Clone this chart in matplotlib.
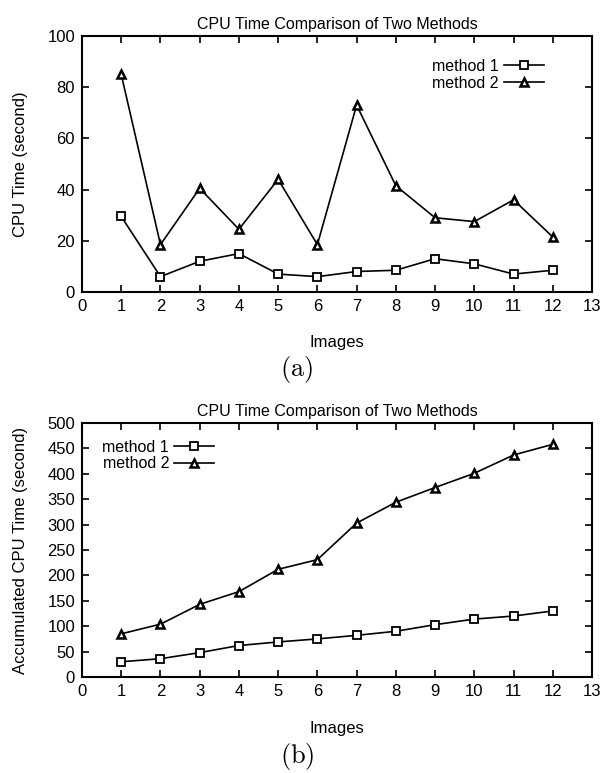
import matplotlib
matplotlib.use("Agg")
import matplotlib.pyplot as plt

plt.rcParams['font.family'] = ['Liberation Sans', 'DejaVu Sans']
plt.rcParams['mathtext.fontset'] = 'cm'

images = [1, 2, 3, 4, 5, 6, 7, 8, 9, 10, 11, 12]
# (a) CPU time per image
cpu_m1 = [29.5, 6, 12, 15, 7, 6, 8, 8.5, 13, 11, 7, 8.5]
cpu_m2 = [85, 18.5, 40.5, 24.5, 44, 18.5, 73, 41.5, 29, 27.5, 36, 21.5]
# (b) accumulated CPU time
acc_m1 = [30, 36, 48, 62, 69, 75, 82, 90, 103, 114, 120, 130]
acc_m2 = [85, 104, 143, 168, 212, 231, 303, 344, 373, 401, 437, 458]

title = "CPU Time Comparison of Two Methods"
labels = ["method 1", "method 2"]

fig = plt.figure(figsize=(6.08, 7.73), dpi=100)
W, H = 608.0, 773.0


def make_axes(top, bottom):
    return fig.add_axes([82 / W, 1 - bottom / H, (592 - 82) / W, (bottom - top) / H])


def style(ax, ymax, ystep, ylabel, xlab_y):
    ax.set_xlim(0, 13)
    ax.set_ylim(0, ymax)
    ax.set_xticks(range(0, 14))
    ax.set_yticks(range(0, ymax + 1, ystep))
    ax.tick_params(direction='in', top=True, right=True, length=5, width=1.2,
                   labelsize=12, pad=5)
    for s in ax.spines.values():
        s.set_linewidth(1.5)
    ax.set_title(title, fontsize=11.5, pad=5)
    ax.set_xlabel("Images", fontsize=12)
    ax.set_ylabel(ylabel, fontsize=12)
    ax.xaxis.set_label_coords(0.5, xlab_y)
    ax.yaxis.set_label_coords(-0.106, 0.5)


def draw(ax, y1, y2):
    ax.plot(images, y1, color='black', lw=1.2, marker='s', ms=5.5,
            mfc='white', mec='black', mew=1.3, label=labels[0])
    ax.plot(images, y2, color='black', lw=1.2, marker='^', ms=5.5,
            mfc='white', mec='black', mew=1.8, label=labels[1])


legend_kw = dict(frameon=False, markerfirst=False, fontsize=11.5,
                 handlelength=2.5, handletextpad=0.3, labelspacing=0.1,
                 borderpad=0.0, borderaxespad=0.0)

ax1 = make_axes(36, 292)
draw(ax1, cpu_m1, cpu_m2)
style(ax1, 100, 20, "CPU Time (second)", -0.168)
ax1.legend(loc='upper right', bbox_to_anchor=(0.905, 0.91), **legend_kw)

ax2 = make_axes(423, 677)
draw(ax2, acc_m1, acc_m2)
style(ax2, 500, 50, "Accumulated CPU Time (second)", -0.173)
ax2.legend(loc='upper left', bbox_to_anchor=(0.04, 0.935), **legend_kw)

fig.text(297 / W, 1 - 370 / H, r'$\mathrm{(a)}$', ha='center', va='center', fontsize=19)
fig.text(297 / W, 1 - 757 / H, r'$\mathrm{(b)}$', ha='center', va='center', fontsize=19)

fig.savefig("out.png", dpi=100)
